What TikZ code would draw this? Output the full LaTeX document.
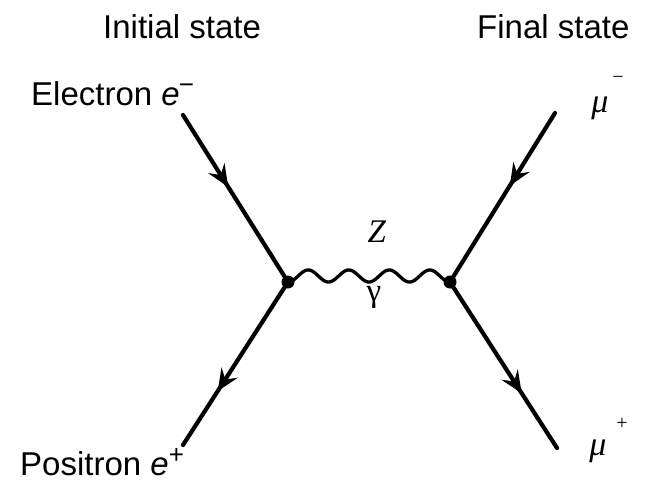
\documentclass[tikz,border=0pt]{standalone}
\usepackage{fontspec}
\setmainfont{Liberation Sans}
\newfontfamily\timesf{Liberation Serif}
\usetikzlibrary{arrows.meta,decorations.markings}
\newcommand{\bigsup}[1]{\raisebox{12pt}{\fontsize{26}{28}\selectfont #1}}
\begin{document}
\begin{tikzpicture}[x=1pt,y=-1pt,
  fermion/.style={line width=4.2pt,line cap=round},
  arrowat/.style={postaction={decorate},decoration={markings,
     mark=at position #1 with {\arrow{Stealth[length=22pt,width=19pt,inset=8pt]}}}},
  photon/.style={line width=3.3pt},
  vertexdot/.style={circle,fill=black,inner sep=0pt,minimum size=13pt},
  bigtext/.style={font=\fontsize{33}{38}\selectfont,inner sep=0pt},
  greek/.style={font=\fontsize{33}{36}\selectfont\timesf,inner sep=0pt},
  muletter/.style={font=\fontsize{34}{38}\selectfont\timesf\itshape,inner sep=0pt},
  supsign/.style={font=\fontsize{20}{22}\selectfont\timesf,inner sep=0pt}]
\useasboundingbox (0,0) rectangle (654,483);
% titles
\node[bigtext,anchor=base west] (init) at (103,38) {Initial state};
\node[bigtext,anchor=base west] (fin) at (477,38) {Final state};
\node[bigtext,anchor=base west] (elec) at (31,105) {Electron \textit{e}\kern-1pt\bigsup{−}};
\node[bigtext,anchor=base west] (posi) at (20,475) {Positron \textit{e}\bigsup{+}};
% external points and vertices
\coordinate (ein) at (183,115);
\coordinate (pin) at (183,445);
\coordinate (mum) at (555,113);
\coordinate (mup) at (557,448);
\coordinate (L) at (288,282);
\coordinate (R) at (450,282);
% fermion lines
\draw[fermion,arrowat=0.43] (ein) -- (L);
\draw[fermion,arrowat=0.67] (L) -- (pin);
\draw[fermion,arrowat=0.43] (mum) -- (R);
\draw[fermion,arrowat=0.67] (R) -- (mup);
% photon / Z line
\draw[photon] plot[domain=0:1,samples=200,smooth] ({288+162*\x},{282-12*(0.5-0.5*cos(1440*\x))});
\node[vertexdot] (Ld) at (L) {};
\node[vertexdot] (Rd) at (R) {};
% labels
\node[greek] (zlab) at (377,232) {\textit{Z}};
\node[greek] (glab) at (374,297) {γ};
\node[muletter] (mu1) at (600,108) {μ};
\node[supsign] (mu1s) at (618,80) {−};
\node[muletter] (mu2) at (598,451) {μ};
\node[supsign] (mu2s) at (622,424) {+};
\end{tikzpicture}
\end{document}
